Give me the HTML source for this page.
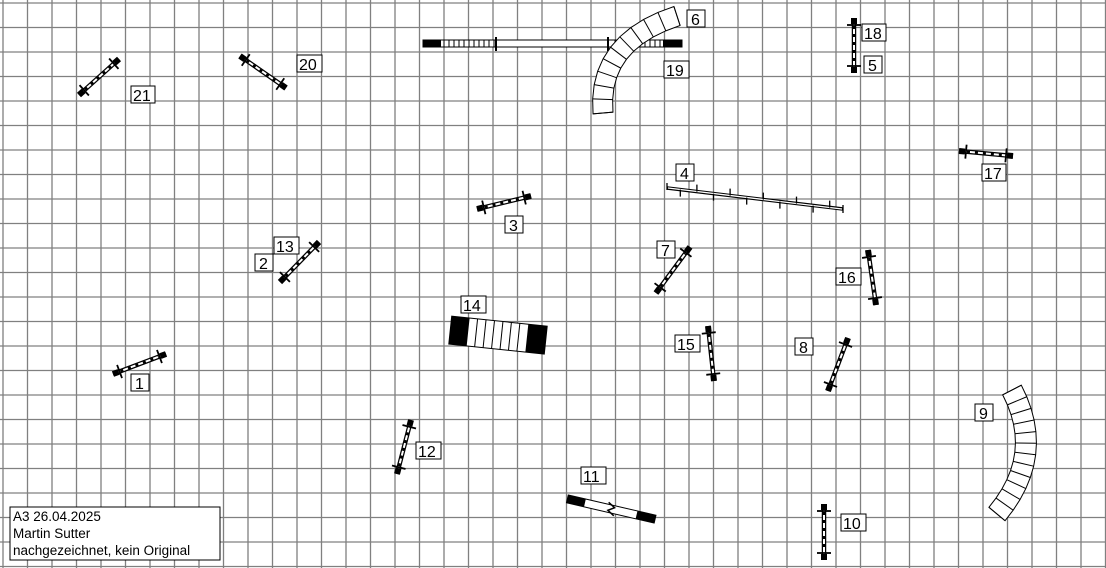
<!DOCTYPE html>
<html><head><meta charset="utf-8"><style>
html,body{margin:0;padding:0;background:#fff;}
svg{display:block;}
text{font-family:"Liberation Sans",sans-serif;font-size:16px;}
</style></head><body>
<svg id="s" width="1106" height="568" xmlns="http://www.w3.org/2000/svg">
<g id="grid" stroke="#808080" stroke-width="1.3"></g>
<g id="items"></g>
<g id="labels" font-family="Liberation Sans" font-size="16">
<rect x="131" y="86" width="24" height="17" fill="#fff" stroke="#000"/><text x="133" y="101">21</text>
<rect x="297" y="55" width="25" height="17" fill="#fff" stroke="#000"/><text x="299" y="70">20</text>
<rect x="687" y="10" width="18" height="17" fill="#fff" stroke="#000"/><text x="691" y="25">6</text>
<rect x="664" y="61" width="25" height="17" fill="#fff" stroke="#000"/><text x="666" y="76">19</text>
<rect x="862" y="24" width="24" height="17" fill="#fff" stroke="#000"/><text x="864" y="39">18</text>
<rect x="864" y="56" width="18" height="17" fill="#fff" stroke="#000"/><text x="868" y="71">5</text>
<rect x="982" y="164" width="24" height="17" fill="#fff" stroke="#000"/><text x="984" y="179">17</text>
<rect x="676" y="164" width="18" height="17" fill="#fff" stroke="#000"/><text x="680" y="179">4</text>
<rect x="505" y="216" width="18" height="17" fill="#fff" stroke="#000"/><text x="509" y="231">3</text>
<rect x="274" y="237" width="25" height="17" fill="#fff" stroke="#000"/><text x="276" y="252">13</text>
<rect x="255" y="254" width="18" height="17" fill="#fff" stroke="#000"/><text x="259" y="269">2</text>
<rect x="657" y="241" width="18" height="17" fill="#fff" stroke="#000"/><text x="661" y="256">7</text>
<rect x="836" y="268" width="25" height="17" fill="#fff" stroke="#000"/><text x="838" y="283">16</text>
<rect x="461" y="296" width="25" height="17" fill="#fff" stroke="#000"/><text x="463" y="311">14</text>
<rect x="675" y="335" width="25" height="17" fill="#fff" stroke="#000"/><text x="677" y="350">15</text>
<rect x="795" y="338" width="18" height="17" fill="#fff" stroke="#000"/><text x="799" y="353">8</text>
<rect x="131" y="374" width="18" height="17" fill="#fff" stroke="#000"/><text x="135" y="389">1</text>
<rect x="975" y="404" width="18" height="17" fill="#fff" stroke="#000"/><text x="979" y="419">9</text>
<rect x="416" y="442" width="25" height="17" fill="#fff" stroke="#000"/><text x="418" y="457">12</text>
<rect x="581" y="467" width="25" height="17" fill="#fff" stroke="#000"/><text x="583" y="482">11</text>
<rect x="841" y="514" width="25" height="17" fill="#fff" stroke="#000"/><text x="843" y="529">10</text>
<rect x="10" y="507" width="210" height="53" fill="#fff" stroke="#000"/>
<text x="13" y="521" style="font-size:13.5px">A3 26.04.2025</text>
<text x="13" y="538" style="font-size:13.5px">Martin Sutter</text>
<text x="13" y="555" style="font-size:13.5px">nachgezeichnet, kein Original</text>
</g>
</svg>
<script>
var NS="http://www.w3.org/2000/svg";
var G=document.getElementById("grid"),I=document.getElementById("items");
function el(p,t,a){var e=document.createElementNS(NS,t);for(var k in a)e.setAttribute(k,a[k]);p.appendChild(e);return e;}
for(var i=0;i<=45;i++){var x=3+i*24.5;el(G,"line",{x1:x,y1:0,x2:x,y2:568});}
for(var j=0;j<=23;j++){var y=3+j*24.5;el(G,"line",{x1:0,y1:y,x2:1106,y2:y});}
function jump(ax,ay,bx,by){
 var dx=bx-ax,dy=by-ay,L=Math.hypot(dx,dy),ux=dx/L,uy=dy/L,px=-uy,py=ux;
 el(I,"line",{x1:ax,y1:ay,x2:bx,y2:by,stroke:"#000","stroke-width":4.5});
 el(I,"line",{x1:ax+ux*6,y1:ay+uy*6,x2:bx-ux*6,y2:by-uy*6,stroke:"#fff","stroke-width":2});
 el(I,"line",{x1:ax+ux*8,y1:ay+uy*8,x2:bx-ux*8,y2:by-uy*8,stroke:"#000","stroke-width":2.4,"stroke-dasharray":"3 5"});
 el(I,"line",{x1:ax,y1:ay,x2:ax+ux*6,y2:ay+uy*6,stroke:"#000","stroke-width":6});
 el(I,"line",{x1:bx,y1:by,x2:bx-ux*6,y2:by-uy*6,stroke:"#000","stroke-width":6});
 [[ax+ux*7,ay+uy*7],[bx-ux*7,by-uy*7]].forEach(function(c){
  el(I,"line",{x1:c[0]-px*7,y1:c[1]-py*7,x2:c[0]+px*7,y2:c[1]+py*7,stroke:"#000","stroke-width":1.8});});
}
jump(79,95,119,59);jump(240,56,286,88);jump(854,18,854,73);jump(959,151,1013,156);
jump(477,209,531,196);jump(280,282,319,242);jump(656,293,690,247);jump(868,250,876,305);
jump(708,326,714,381);jump(828,391,848,338);jump(113,374,166,354);jump(397,474,411,420);jump(824,504,824,560);
function tunnel(p0,p1,p2,n,w){
 function P(t){return [(1-t)*(1-t)*p0[0]+2*(1-t)*t*p1[0]+t*t*p2[0],(1-t)*(1-t)*p0[1]+2*(1-t)*t*p1[1]+t*t*p2[1]];}
 function D(t){return [2*(1-t)*(p1[0]-p0[0])+2*t*(p2[0]-p1[0]),2*(1-t)*(p1[1]-p0[1])+2*t*(p2[1]-p1[1])];}
 var A=[],B=[];for(var k=0;k<=n;k++){var t=k/n,p=P(t),d=D(t),l=Math.hypot(d[0],d[1]),nx=-d[1]/l*w/2,ny=d[0]/l*w/2;A.push([p[0]+nx,p[1]+ny]);B.push([p[0]-nx,p[1]-ny]);}
 var pts=A.concat(B.slice().reverse()).map(function(q){return q.join(",")}).join(" ");
 el(I,"polygon",{points:pts,fill:"#fff",stroke:"#000","stroke-width":1});
 for(var k=0;k<=n;k++)el(I,"line",{x1:A[k][0],y1:A[k][1],x2:B[k][0],y2:B[k][1],stroke:"#000","stroke-width":1});
}
el(I,"rect",{x:423,y:40,width:259,height:7,fill:"#fff",stroke:"#000","stroke-width":1});
el(I,"rect",{x:423,y:40,width:18,height:7,fill:"#000"});
el(I,"rect",{x:663,y:40,width:19,height:7,fill:"#000"});
for(var x=444;x<496;x+=5)el(I,"line",{x1:x,y1:40,x2:x,y2:47,stroke:"#000","stroke-width":1});
for(var x=615;x<663;x+=5)el(I,"line",{x1:x,y1:40,x2:x,y2:47,stroke:"#000","stroke-width":1});
el(I,"line",{x1:496,y1:37,x2:496,y2:51,stroke:"#000","stroke-width":2});
el(I,"line",{x1:608,y1:37,x2:608,y2:51,stroke:"#000","stroke-width":2});
tunnel([603,113],[597,42],[677,16],10,20);
tunnel([1012,390],[1046,455],[997,514],12,21);
el(I,"line",{x1:667,y1:188,x2:843,y2:209,stroke:"#000","stroke-width":3.5});
el(I,"line",{x1:668,y1:188,x2:842,y2:209,stroke:"#fff","stroke-width":1.3});
el(I,"line",{x1:667,y1:183,x2:667,y2:190,stroke:"#000","stroke-width":1.3});
el(I,"line",{x1:843,y1:205,x2:843,y2:213,stroke:"#000","stroke-width":1.3});
for(var k=0;k<10;k++){var t=(k+0.5)/10,x=672+t*166,y=188.6+t*20;var up=k%2?-7:7;el(I,"line",{x1:x,y1:y,x2:x,y2:y+up,stroke:"#000","stroke-width":1.3});}
var g=el(I,"g",{transform:"rotate(6 497 335)"});
el(g,"rect",{x:450,y:321,width:96,height:28,fill:"#fff",stroke:"#000"});
el(g,"rect",{x:450,y:321,width:18,height:28,fill:"#000"});
el(g,"rect",{x:527,y:321,width:19,height:28,fill:"#000"});
for(var x=476;x<527;x+=8.5)el(g,"line",{x1:x,y1:321,x2:x,y2:349,stroke:"#000"});
var g2=el(I,"g",{transform:"rotate(13 611 510)"});
el(g2,"rect",{x:566,y:505,width:90,height:8,fill:"#fff",stroke:"#000"});
el(g2,"rect",{x:566,y:505,width:18,height:8,fill:"#000"});
el(g2,"rect",{x:637,y:505,width:19,height:8,fill:"#000"});
el(g2,"polyline",{points:"607,503 614,507 608,511 615,515",fill:"none",stroke:"#000","stroke-width":1.5});
</script>
</body></html>
